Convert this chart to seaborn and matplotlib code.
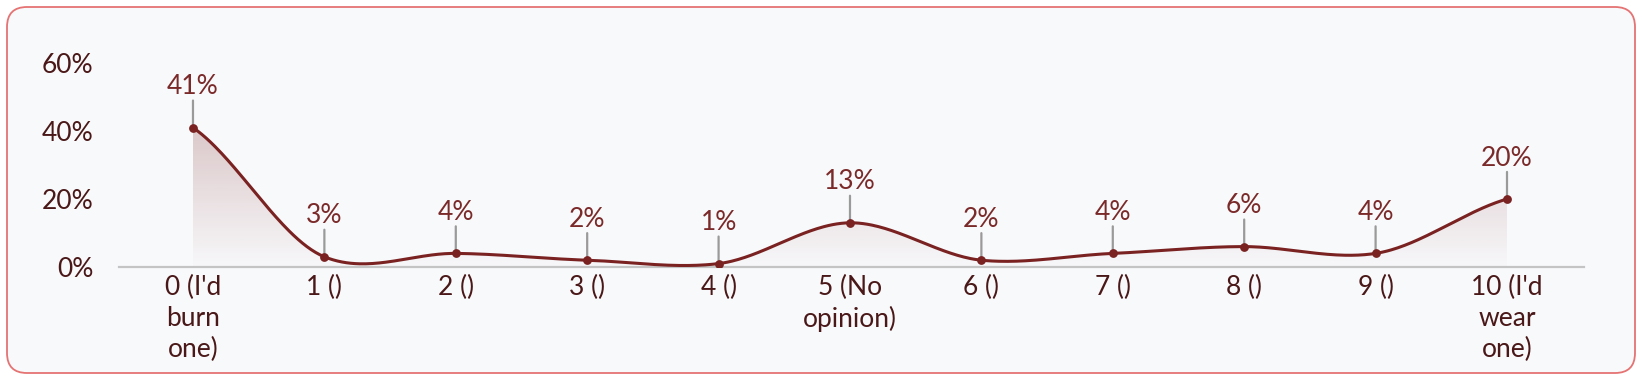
import numpy as np
import pandas as pd
import matplotlib
matplotlib.use("Agg")
import matplotlib.pyplot as plt
import seaborn as sns
from matplotlib.patches import FancyBboxPatch
from matplotlib.transforms import IdentityTransform
from matplotlib.colors import to_rgb

# ---- data ----
categories = ["0 (I'd burn one)", "1 ()", "2 ()", "3 ()", "4 ()", "5 (No opinion)",
              "6 ()", "7 ()", "8 ()", "9 ()", "10 (I'd wear one)"]
tick_labels = ["0 (I'd\nburn\none)", "1 ()", "2 ()", "3 ()", "4 ()", "5 (No\nopinion)",
               "6 ()", "7 ()", "8 ()", "9 ()", "10 (I'd\nwear\none)"]
values = [41, 3, 4, 2, 1, 13, 2, 4, 6, 4, 20]
y_ticks = [0, 20, 40, 60]
y_tick_labels = ["0%", "20%", "40%", "60%"]

LINE = "#7a2222"
LABEL = "#7b2a2a"
TICK = "#4a1818"
GRAY = "#9a9a9a"

sns.set_style("white")
plt.rcParams["font.family"] = ["Lato", "DejaVu Sans"]

W, H, DPI = 1642, 380, 100
fig = plt.figure(figsize=(W / DPI, H / DPI), dpi=DPI, facecolor="white")

# rounded panel
panel = FancyBboxPatch((7, 7), 1628, 366, boxstyle="round,pad=0,rounding_size=20",
                       transform=IdentityTransform(), facecolor="#f8f9fb",
                       edgecolor="#e57373", linewidth=1.3, zorder=-10)
fig.patches.append(panel)

ax = fig.add_axes([119 / W, (H - 267) / H, 1465 / W, (267 - 63) / H])
ax.set_facecolor("none")
ax.set_zorder(5)

x = np.arange(len(values), dtype=float)
y = np.array(values, dtype=float)

# smooth curve (cardinal-style spline through the points)
m = np.zeros_like(y)
m[1:-1] = 0.85 * (y[2:] - y[:-2]) / 2
m[0] = 0.7 * (y[1] - y[0])
m[-1] = 0.7 * (y[-1] - y[-2])
xs, ys = [], []
for i in range(len(y) - 1):
    t = np.linspace(0, 1, 60, endpoint=(i == len(y) - 2))
    h00 = 2 * t**3 - 3 * t**2 + 1
    h10 = t**3 - 2 * t**2 + t
    h01 = -2 * t**3 + 3 * t**2
    h11 = t**3 - t**2
    xs.append(x[i] + t)
    ys.append(h00 * y[i] + h10 * m[i] + h01 * y[i + 1] + h11 * m[i + 1])
xs = np.concatenate(xs)
ys = np.concatenate(ys)
curve = pd.DataFrame({"x": xs, "y": ys})
pts = pd.DataFrame({"x": x, "y": y, "category": categories})

# gradient fill under the curve
poly = ax.fill_between(xs, 0, ys, facecolor="none", edgecolor="none")
ymax = y.max()
grad = np.linspace(0, 1, 256).reshape(-1, 1)
rgb = to_rgb(LINE)
img = np.zeros((256, 1, 4))
img[..., 0], img[..., 1], img[..., 2] = rgb
img[..., 3] = 0.01 + 0.22 * grad
im = ax.imshow(img, extent=[0, 10, 0, ymax], origin="lower", aspect="auto",
               interpolation="bilinear", zorder=1)
im.set_clip_path(poly.get_paths()[0], transform=ax.transData)

sns.lineplot(data=curve, x="x", y="y", color=LINE, linewidth=2.2, ax=ax,
             zorder=3, sort=False)
sns.scatterplot(data=pts, x="x", y="y", color=LINE, s=40, edgecolor=LINE,
                linewidth=0, ax=ax, zorder=4)

# leader lines and value labels
for xi, yi in zip(x, y):
    ax.annotate("", xy=(xi, yi), xytext=(0, 19.5), textcoords="offset points",
                arrowprops=dict(arrowstyle="-", color=GRAY, lw=1.6,
                                shrinkA=0, shrinkB=2.5), zorder=2)
    ax.annotate(f"{int(yi)}%", xy=(xi, yi), xytext=(0, 24), textcoords="offset points",
                ha="center", va="baseline", fontsize=19, color=LABEL, zorder=5)

ax.set_xlim(-0.563, 10.586)
ax.set_ylim(0, 60)
ax.set_xticks(x)
ax.set_xticklabels(tick_labels, fontsize=19, color=TICK, linespacing=1.28)
ax.set_yticks(y_ticks)
ax.set_yticklabels(y_tick_labels, fontsize=19, color=TICK)
ax.tick_params(axis="x", length=0, pad=6)
ax.tick_params(axis="y", length=0, pad=18.5)
ax.set_xlabel("")
ax.set_ylabel("")
for s in ["top", "right", "left"]:
    ax.spines[s].set_visible(False)
ax.spines["bottom"].set_color("#c4c4c4")
ax.spines["bottom"].set_linewidth(1.6)
ax.grid(False)

fig.savefig("out.png", dpi=DPI, facecolor="white")
